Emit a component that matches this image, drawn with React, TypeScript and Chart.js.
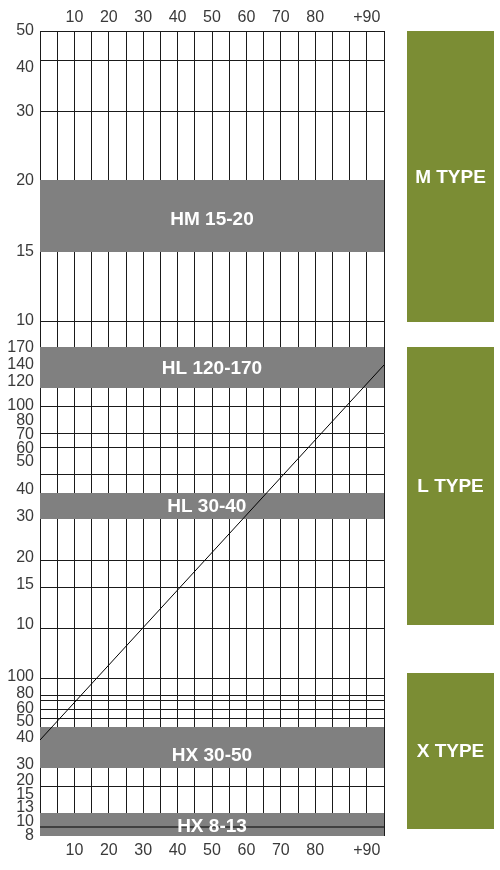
import { useEffect, useRef } from 'react';
import { Chart, registerables } from 'chart.js';

Chart.register(...registerables);

// ---- x axis (columns) ----
const xColumns = [0, 1, 2, 3, 4, 5, 6, 7, 8, 9, 10, 11, 12, 13, 14, 15, 16, 17, 18, 19, 20];
const xTickLabels = ['10', '20', '30', '40', '50', '60', '70', '80', '+90'];
const xLabelColumns = [2, 4, 6, 8, 10, 12, 14, 16, 19];

// ---- y axis (nomogram levels, 0 = bottom, 805 = top) ----
const yTickLabels = [
  '50', '40', '30', '20', '15', '10',
  '170', '140', '120', '100', '80', '70', '60', '50', '40', '30', '20', '15', '10',
  '100', '80', '60', '50', '40', '30', '20', '15', '13', '10', '8',
];
const yTickLevels = [
  805, 768, 724, 655, 584, 515,
  488, 471, 454, 430, 415, 401, 387, 374, 346, 319, 278, 251, 211,
  159, 142, 127, 114, 98, 71, 55, 41, 28, 14, 0,
];
const yGridLevels = [
  805, 776, 724, 515,
  430, 403, 389, 362, 276, 249, 208,
  158, 141, 136, 127, 118, 50,
];

// ---- grey bands ----
const bandLabels = ['HM 15-20', 'HL 120-170', 'HL 30-40', 'HX 30-50', 'HX 8-13'];
const bandTop = [656, 489, 343, 109, 23];
const bandBottom = [584, 448, 317, 68, 0];
const bandTextLevel = [617, 468, 330, 81, 10];
const bandTextColumn = [10, 10, 9.7, 10, 10];

// ---- lines ----
const diagonalLine = [
  { x: 0, y: 96 },
  { x: 20, y: 471 },
];
const hx10Line = [
  { x: 0, y: 9 },
  { x: 20, y: 9 },
];

// ---- type panels ----
const typeLabels = ['M TYPE', 'L TYPE', 'X TYPE'];
const typeTop = [805, 489, 163];
const typeBottom = [514, 211, 7];

const FONT = "'Liberation Sans', Arial, sans-serif";
const GREEN = '#7b8d34';
const GREY = '#808080';
const TEXT = '#3a3a3a';
const GRID = '#1a1a1a';

const overlayPlugin = {
  id: 'overlay',
  afterDatasetsDraw(chart: any) {
    const { ctx, chartArea, scales } = chart;
    const ys = scales.y;
    const xs = scales.x;
    ctx.save();
    ctx.textAlign = 'center';
    ctx.textBaseline = 'middle';
    ctx.fillStyle = '#ffffff';
    ctx.font = `bold 19px ${FONT}`;
    bandLabels.forEach((t, i) => {
      const cy = ys.getPixelForValue(bandTextLevel[i]);
      ctx.fillText(t, xs.getPixelForValue(bandTextColumn[i]), cy + 1);
    });
    const left = chartArea.right + 23;
    const w = 87;
    typeLabels.forEach((t, i) => {
      const top = ys.getPixelForValue(typeTop[i]);
      const bot = ys.getPixelForValue(typeBottom[i]);
      ctx.fillStyle = GREEN;
      ctx.fillRect(left, top, w, bot - top);
      ctx.fillStyle = '#ffffff';
      ctx.font = `bold 19px ${FONT}`;
      ctx.fillText(t, left + w / 2, (top + bot) / 2 + 1);
    });
    ctx.restore();
  },
};

export default function App() {
  const ref = useRef<HTMLCanvasElement | null>(null);

  useEffect(() => {
    if (!ref.current) return;

    const bandSets = bandLabels.map((label, i) => ({
      label,
      data: [
        { x: 0, y: bandTop[i] },
        { x: 20, y: bandTop[i] },
      ],
      fill: { value: bandBottom[i] },
      backgroundColor: GREY,
      borderColor: GREY,
      borderWidth: 0,
      pointRadius: 0,
      order: 2,
    }));

    const xTickCallback = (value: any) => {
      const i = xLabelColumns.indexOf(Number(value));
      return i >= 0 ? xTickLabels[i] : '';
    };

    const chart = new Chart(ref.current, {
      type: 'line',
      data: {
        datasets: [
          ...bandSets,
          {
            label: 'diagonal',
            data: diagonalLine,
            borderColor: '#000000',
            borderWidth: 1,
            pointRadius: 0,
            fill: false,
            order: 0,
          },
          {
            label: 'HX 10',
            data: hx10Line,
            borderColor: '#000000',
            borderWidth: 1,
            pointRadius: 0,
            fill: false,
            order: 1,
          },
        ] as any,
      },
      options: {
        animation: false,
        responsive: true,
        maintainAspectRatio: false,
        layout: { padding: { left: 0, right: 116, top: 0, bottom: 0 } },
        plugins: {
          legend: { display: false },
          tooltip: { enabled: false },
        },
        scales: {
          x: {
            type: 'linear',
            position: 'bottom',
            min: 0,
            max: 20,
            afterBuildTicks: (s: any) => {
              s.ticks = xColumns.map((v) => ({ value: v }));
            },
            afterFit: (s: any) => {
              s.height = 34;
            },
            ticks: {
              autoSkip: false,
              maxRotation: 0,
              padding: 5,
              color: TEXT,
              font: { family: FONT, size: 16 },
              callback: xTickCallback,
            },
            grid: { color: GRID, lineWidth: 1, drawTicks: false },
            border: { display: false },
          },
          xTop: {
            type: 'linear',
            position: 'top',
            min: 0,
            max: 20,
            afterBuildTicks: (s: any) => {
              s.ticks = xColumns.map((v) => ({ value: v }));
            },
            afterFit: (s: any) => {
              s.height = 31;
            },
            ticks: {
              autoSkip: false,
              maxRotation: 0,
              padding: 4,
              color: TEXT,
              font: { family: FONT, size: 16 },
              callback: xTickCallback,
            },
            grid: { display: false, drawTicks: false },
            border: { display: false },
          },
          yLabels: {
            type: 'linear',
            position: 'left',
            min: 0,
            max: 805,
            afterBuildTicks: (s: any) => {
              s.ticks = yTickLevels.map((v) => ({ value: v }));
            },
            afterFit: (s: any) => {
              s.width = 40;
            },
            ticks: {
              autoSkip: false,
              padding: 6,
              color: TEXT,
              font: { family: FONT, size: 16 },
              callback: (_v: any, index: number) => yTickLabels[index],
            },
            grid: { display: false, drawTicks: false },
            border: { display: false },
          },
          y: {
            type: 'linear',
            position: 'left',
            min: 0,
            max: 805,
            afterBuildTicks: (s: any) => {
              s.ticks = yGridLevels.map((v) => ({ value: v }));
            },
            afterFit: (s: any) => {
              s.width = 0;
            },
            ticks: { display: false },
            grid: { color: GRID, lineWidth: 1, drawTicks: false },
            border: { display: false },
          },
        },
      } as any,
      plugins: [overlayPlugin],
    });

    return () => chart.destroy();
  }, []);

  return (
    <div style={{ position: 'absolute', left: 0, top: 0, width: 500, height: 870, background: '#ffffff' }}>
      <canvas ref={ref} />
    </div>
  );
}
